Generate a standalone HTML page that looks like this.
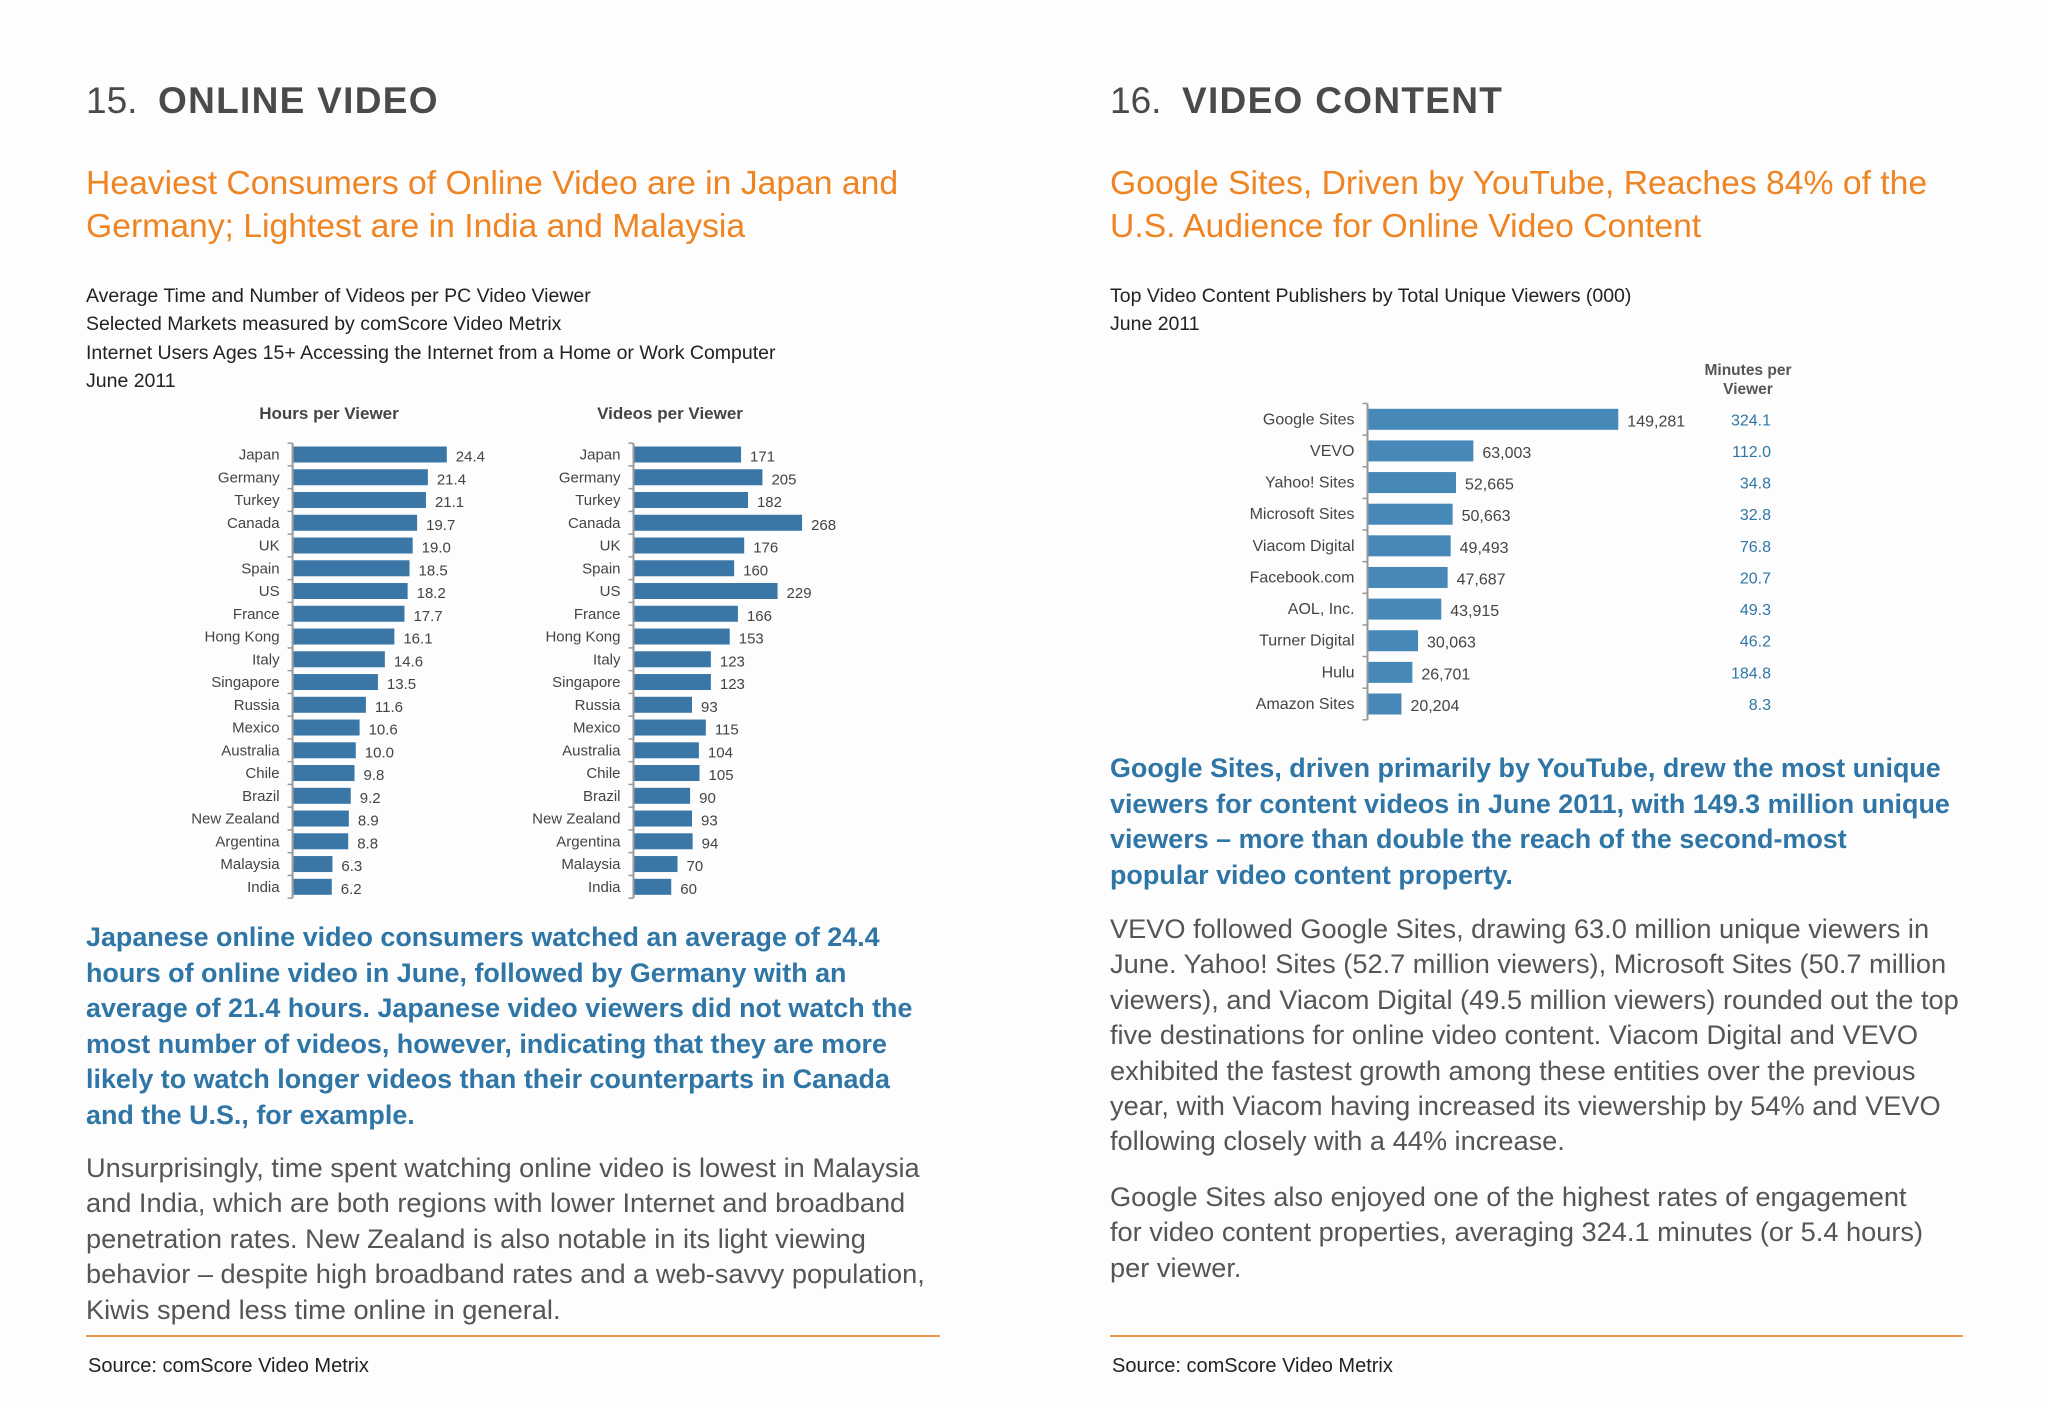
<!DOCTYPE html>
<html><head><meta charset="utf-8">
<style>
body{margin:0;background:#fdfdfd;}
#page{position:relative;width:2048px;height:1408px;overflow:hidden;background:#fdfdfd;font-family:"Liberation Sans",sans-serif;}
.a{position:absolute;white-space:nowrap;}
.h1{font-size:37px;color:#4a4a4a;}
.h1 b{letter-spacing:1.3px;}
.head{font-size:33.7px;color:#ef8422;line-height:43px;}
.sub{font-size:19.5px;color:#222;line-height:28.3px;}
.blue{font-size:26.9px;font-weight:bold;color:#2f76a6;line-height:35.5px;}
.gray{font-size:27.2px;color:#555;line-height:35.4px;}
.rule{position:absolute;height:2px;background:#ef9a4a;}
.src{font-size:20px;color:#222;}
svg{position:absolute;left:0;top:0;}
</style></head><body>
<div id="page">
<div class="a h1" style="left:86px;top:80px">15.&nbsp; <b>ONLINE VIDEO</b></div>
<div class="a h1" style="left:1110px;top:80px">16.&nbsp; <b>VIDEO CONTENT</b></div>
<div class="a head" style="left:86px;top:162px">Heaviest Consumers of Online Video are in Japan and<br>Germany; Lightest are in India and Malaysia</div>
<div class="a head" style="left:1110px;top:162px">Google Sites, Driven by YouTube, Reaches 84% of the<br>U.S. Audience for Online Video Content</div>
<div class="a sub" style="left:86px;top:282px">Average Time and Number of Videos per PC Video Viewer<br>Selected Markets measured by comScore Video Metrix<br>Internet Users Ages 15+ Accessing the Internet from a Home or Work Computer<br>June 2011</div>
<div class="a sub" style="left:1110px;top:282px">Top Video Content Publishers by Total Unique Viewers (000)<br>June 2011</div>
<div class="a blue" style="left:86px;top:920px">Japanese online video consumers watched an average of 24.4<br>hours of online video in June, followed by Germany with an<br>average of 21.4 hours. Japanese video viewers did not watch the<br>most number of videos, however, indicating that they are more<br>likely to watch longer videos than their counterparts in Canada<br>and the U.S., for example.</div>
<div class="a gray" style="left:86px;top:1150px">Unsurprisingly, time spent watching online video is lowest in Malaysia<br>and India, which are both regions with lower Internet and broadband<br>penetration rates. New Zealand is also notable in its light viewing<br>behavior – despite high broadband rates and a web-savvy population,<br>Kiwis spend less time online in general.</div>
<div class="a blue" style="left:1110px;top:751px">Google Sites, driven primarily by YouTube, drew the most unique<br>viewers for content videos in June 2011, with 149.3 million unique<br>viewers – more than double the reach of the second-most<br>popular video content property.</div>
<div class="a gray" style="left:1110px;top:911px">VEVO followed Google Sites, drawing 63.0 million unique viewers in<br>June. Yahoo! Sites (52.7 million viewers), Microsoft Sites (50.7 million<br>viewers), and Viacom Digital (49.5 million viewers) rounded out the top<br>five destinations for online video content. Viacom Digital and VEVO<br>exhibited the fastest growth among these entities over the previous<br>year, with Viacom having increased its viewership by 54% and VEVO<br>following closely with a 44% increase.</div>
<div class="a gray" style="left:1110px;top:1179px">Google Sites also enjoyed one of the highest rates of engagement<br>for video content properties, averaging 324.1 minutes (or 5.4 hours)<br>per viewer.</div>
<div class="rule" style="left:86px;top:1335px;width:854px"></div>
<div class="rule" style="left:1110px;top:1335px;width:853px"></div>
<div class="a src" style="left:88px;top:1355px">Source: comScore Video Metrix</div>
<div class="a src" style="left:1112px;top:1355px">Source: comScore Video Metrix</div>
<svg id="charts" width="2048" height="1408"></svg>
</div>
<script>
const countries=["Japan","Germany","Turkey","Canada","UK","Spain","US","France","Hong Kong","Italy","Singapore","Russia","Mexico","Australia","Chile","Brazil","New Zealand","Argentina","Malaysia","India"];
const hours=[24.4,21.4,21.1,19.7,19.0,18.5,18.2,17.7,16.1,14.6,13.5,11.6,10.6,10.0,9.8,9.2,8.9,8.8,6.3,6.2];
const videos=[171,205,182,268,176,160,229,166,153,123,123,93,115,104,105,90,93,94,70,60];
const publishers=["Google Sites","VEVO","Yahoo! Sites","Microsoft Sites","Viacom Digital","Facebook.com","AOL, Inc.","Turner Digital","Hulu","Amazon Sites"];
const viewers=[149281,63003,52665,50663,49493,47687,43915,30063,26701,20204];
const minutes=[324.1,112.0,34.8,32.8,76.8,20.7,49.3,46.2,184.8,8.3];
const NS="http://www.w3.org/2000/svg";
const svg=document.getElementById('charts');
function mk(tag,attrs,txt){const e=document.createElementNS(NS,tag);for(const k in attrs)e.setAttribute(k,attrs[k]);if(txt!==undefined)e.textContent=txt;svg.appendChild(e);return e;}
function hbar(o){
  const n=o.cats.length;
  const y=i=>o.y0+(o.y1-o.y0)*i/(n-1);
  const x=v=>o.ax+v*o.k;
  const step=(o.y1-o.y0)/(n-1);
  let t=mk('text',{x:o.tx,y:o.ty,'text-anchor':'middle','font-size':o.tfs,'font-weight':'bold',fill:'#444','font-family':'Liberation Sans'},o.title);
  
  
  let ax=mk('line',{x1:o.ax,x2:o.ax,y1:y(0)-step/2,y2:y(n-1)+step/2,stroke:'#999','stroke-width':2});
  
  
  for(let i=0;i<=n;i++){let tk=mk('line',{x1:o.ax-5,x2:o.ax,y1:y(0)-step/2+i*step,y2:y(0)-step/2+i*step,stroke:'#999','stroke-width':1.5});
    
    }
  o.cats.forEach((c,i)=>{
    let l=mk('text',{x:o.ax-13,y:y(i)+5,'text-anchor':'end','font-size':o.fs,fill:'#444','font-family':'Liberation Sans'},c);
    
    
    let b=mk('rect',{x:o.ax+1,y:y(i)-o.bh/2,width:x(o.vals[i])-o.ax-1,height:o.bh,fill:o.color});
    
    
    let v=mk('text',{x:x(o.vals[i])+9,y:y(i)+7,'font-size':o.fs,fill:'#444','font-family':'Liberation Sans'},o.fmt(o.vals[i]));
    
    
  });
  return y;
}
hbar({id:'hours-chart',cats:countries,vals:hours,ax:292.6,k:6.32,y0:454.5,y1:886.8,bh:16,fs:15,tfs:17,tx:329,ty:419,title:'Hours per Viewer',color:'#3a77a7',fmt:v=>v.toFixed(1)});
hbar({id:'videos-chart',cats:countries,vals:videos,ax:633.5,k:0.629,y0:454.5,y1:886.8,bh:16,fs:15,tfs:17,tx:670,ty:419,title:'Videos per Viewer',color:'#3a77a7',fmt:v=>String(v)});
const yr=hbar({id:'viewers-chart',cats:publishers,vals:viewers,ax:1367.5,k:250.8/149281,y0:419.3,y1:704,bh:21,fs:16,tfs:1,tx:0,ty:0,title:'',color:'#4688b8',fmt:v=>v.toLocaleString('en-US')});
let h1=mk('text',{x:1748,y:375,'text-anchor':'middle','font-size':15.5,'font-weight':'bold',fill:'#555','font-family':'Liberation Sans'},'Minutes per');


let h2=mk('text',{x:1748,y:394,'text-anchor':'middle','font-size':15.5,'font-weight':'bold',fill:'#555','font-family':'Liberation Sans'},'Viewer');


minutes.forEach((m,i)=>{
  let t=mk('text',{x:1771,y:yr(i)+6,'text-anchor':'end','font-size':16,fill:'#2f76a6','font-family':'Liberation Sans'},m.toFixed(1));
  
  
});
</script>
</body></html>
